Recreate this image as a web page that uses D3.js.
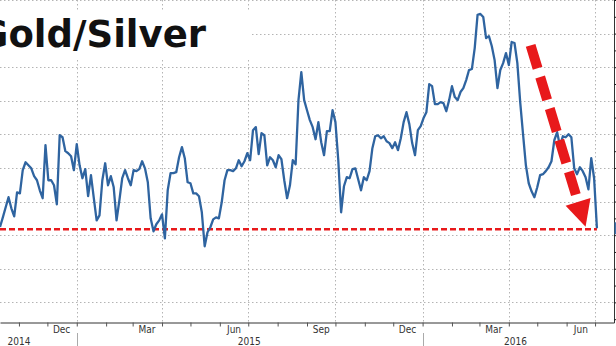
<!DOCTYPE html>
<html>
<head>
<meta charset="utf-8">
<script src="https://cdn.jsdelivr.net/npm/d3@7"></script>
<style>
  body { margin: 0; background: #fff; }
  svg { display: block; }
</style>
</head>
<body>
<script>
// gold / silver ratio, one reading every 3 days from startDate
const startDate = new Date(2014, 9, 12);
const endDate = new Date(2016, 6, 21);
const stepDays = 3;
const ratio = [
  70.49, 71.06, 71.66, 72.26, 71.60, 71.12, 72.55, 72.49, 73.87, 74.34,
  74.16, 73.98, 73.51, 73.27, 72.67, 72.20, 75.36, 73.27, 73.27, 72.97,
  71.84, 75.95, 75.83, 75.00, 74.88, 74.70, 73.87, 75.42, 74.16, 73.39,
  73.93, 72.32, 73.57, 72.20, 70.88, 71.18, 73.27, 74.28, 72.97, 73.51,
  72.85, 70.88, 72.08, 73.39, 73.87, 73.39, 72.97, 73.87, 73.81, 73.93,
  74.40, 73.98, 73.15, 71.00, 70.23, 70.65, 70.88, 71.24, 69.81, 72.67,
  73.69, 73.69, 73.75, 74.64, 75.24, 74.58, 73.15, 73.09, 72.49, 72.49,
  72.32, 71.36, 69.34, 70.17, 70.47, 70.94, 71.06, 71.00, 71.96, 73.27,
  73.87, 73.87, 73.81, 73.98, 74.46, 74.10, 74.40, 74.88, 74.46, 76.25,
  76.43, 74.82, 76.07, 75.95, 74.16, 74.64, 74.46, 74.04, 74.76, 74.52,
  73.27, 72.20, 72.97, 74.46, 74.22, 78.04, 79.71, 78.04, 77.44, 76.85,
  76.43, 75.71, 76.73, 75.53, 74.76, 76.19, 76.19, 77.44, 76.73, 74.46,
  71.36, 72.91, 73.45, 73.39, 73.93, 73.98, 73.33, 72.67, 73.45, 73.27,
  73.81, 75.18, 75.89, 75.95, 75.77, 75.89, 75.59, 75.48, 75.18, 75.53,
  75.06, 75.77, 76.73, 77.32, 76.61, 75.48, 74.76, 76.25, 76.49, 76.97,
  77.32, 78.99, 78.87, 77.80, 77.80, 77.92, 77.86, 77.38, 78.04, 78.87,
  78.22, 78.04, 78.52, 78.75, 79.23, 79.83, 79.89, 81.14, 83.11, 83.17,
  82.99, 81.73, 81.85, 81.26, 80.42, 78.75, 79.83, 80.24, 80.84, 80.13,
  81.50, 81.44, 80.24, 77.92, 76.01, 74.16, 73.09, 72.61, 72.26, 72.85,
  73.57, 73.63, 73.81, 74.04, 74.40, 75.65, 76.13, 75.30, 75.89, 75.83,
  76.01, 75.83, 73.98, 73.63, 74.04, 73.81, 73.45, 72.73, 74.58, 73.39,
  70.41
];
const supportLevel = 70.35;
const monthLabels = ["Dec", "Mar", "Jun", "Sep", "Dec", "Mar", "Jun"];
const yearLabels = ["2014", "2015", "2016"];
const yearLabelDates = [new Date(2014, 10, 1), new Date(2015, 6, 2), new Date(2016, 3, 8)];
const arrowFrom = [new Date(2016, 3, 24), 81.3];
const arrowTo = [new Date(2016, 5, 21), 70.5];

const width = 616, height = 346;
const plotRight = 614, plotBottom = 322.5;
const gridColor = "#b4b4b4";
const red = "#e8191b";

const data = ratio.map((v, i) => ({date: d3.timeDay.offset(startDate, i * stepDays), value: v}));

const xScale = d3.scaleTime().domain([startDate, endDate]).range([0, plotRight]);
const yScale = d3.scaleLinear().domain([64.8, 84]).range([plotBottom, 0]);

const svg = d3.select("body").append("svg")
  .attr("width", width)
  .attr("height", height)
  .style("font-family", "'DejaVu Sans Condensed', 'DejaVu Sans', sans-serif");

// horizontal grid
svg.append("g")
  .selectAll("line")
  .data(d3.range(66, 85, 2))
  .join("line")
  .attr("x1", 0).attr("x2", plotRight)
  .attr("y1", d => Math.round(yScale(d)) + 0.5)
  .attr("y2", d => Math.round(yScale(d)) + 0.5)
  .attr("stroke", gridColor)
  .attr("stroke-dasharray", "1.5 2.5");

// vertical grid at quarters
const quarters = d3.timeMonth.every(3).range(startDate, endDate);
svg.append("g")
  .selectAll("line")
  .data(quarters)
  .join("line")
  .attr("x1", d => Math.round(xScale(d)) + 0.5)
  .attr("x2", d => Math.round(xScale(d)) + 0.5)
  .attr("y1", 0).attr("y2", plotBottom)
  .attr("stroke", gridColor)
  .attr("stroke-dasharray", "1.5 2.5");

// year separators below axis
svg.append("g")
  .selectAll("line")
  .data(d3.timeYear.range(startDate, endDate))
  .join("line")
  .attr("x1", d => Math.round(xScale(d)) + 0.5)
  .attr("x2", d => Math.round(xScale(d)) + 0.5)
  .attr("y1", 333).attr("y2", height)
  .attr("stroke", "#aaa");

// title with white box
svg.append("rect")
  .attr("x", 0).attr("y", 10)
  .attr("width", 250).attr("height", 48)
  .attr("fill", "#fff");
svg.append("text")
  .attr("x", 206).attr("y", 47)
  .attr("text-anchor", "end")
  .attr("font-family", "'DejaVu Sans', sans-serif")
  .attr("font-weight", "bold")
  .attr("font-size", 37)
  .attr("fill", "#111")
  .text("Gold/Silver");

// x axis
const xAxis = d3.axisBottom(xScale)
  .ticks(d3.timeMonth.every(1))
  .tickSize(4)
  .tickSizeOuter(0)
  .tickFormat("");
svg.append("g")
  .attr("transform", `translate(0,${plotBottom})`)
  .call(xAxis)
  .call(g => g.select(".domain").attr("stroke", "#333"))
  .call(g => g.selectAll(".tick line").attr("stroke", "#555"));

// right axis (labels fall outside the crop)
const yAxis = d3.axisRight(yScale)
  .tickValues(d3.range(65, 85, 1))
  .tickSize(3)
  .tickSizeOuter(0)
  .tickFormat("");
svg.append("g")
  .attr("transform", `translate(${plotRight},0)`)
  .call(yAxis)
  .call(g => g.select(".domain").attr("stroke", "#333"))
  .call(g => g.selectAll(".tick line").attr("stroke", "#222"));

// month labels centred in the last month of each quarter
const labelMonths = d3.timeMonth.range(startDate, endDate).filter(d => d.getMonth() % 3 === 2);
svg.append("g")
  .selectAll("text")
  .data(labelMonths)
  .join("text")
  .attr("x", d => xScale(d3.timeDay.offset(d, 15)))
  .attr("y", 333)
  .attr("text-anchor", "middle")
  .attr("font-size", 10)
  .attr("fill", "#333")
  .text((d, i) => monthLabels[i]);

svg.append("g")
  .selectAll("text")
  .data(yearLabels)
  .join("text")
  .attr("x", (d, i) => xScale(yearLabelDates[i]))
  .attr("y", 345)
  .attr("text-anchor", "middle")
  .attr("font-size", 10)
  .attr("fill", "#333")
  .text(d => d);

// support line
const last = data[data.length - 1];
svg.append("line")
  .attr("x1", 0).attr("x2", xScale(last.date))
  .attr("y1", yScale(supportLevel)).attr("y2", yScale(supportLevel))
  .attr("stroke", red)
  .attr("stroke-width", 2.5)
  .attr("stroke-dasharray", "6 3");

// ratio line
const line = d3.line()
  .x(d => xScale(d.date))
  .y(d => yScale(d.value));
svg.append("path")
  .datum(data)
  .attr("d", line)
  .attr("fill", "none")
  .attr("stroke", "#2f64a0")
  .attr("stroke-width", 2.3)
  .attr("stroke-linejoin", "round");

// last value tag, cut by the crop
svg.append("rect")
  .attr("x", plotRight + 0.5)
  .attr("y", yScale(last.value) - 6)
  .attr("width", 6).attr("height", 12)
  .attr("fill", "#3c73ad");

// big red arrow
const p0 = [xScale(arrowFrom[0]), yScale(arrowFrom[1])];
const p1 = [xScale(arrowTo[0]), yScale(arrowTo[1])];
const len = Math.hypot(p1[0] - p0[0], p1[1] - p0[1]);
const ux = (p1[0] - p0[0]) / len, uy = (p1[1] - p0[1]) / len;
const headLen = 26, headHalf = 13;
const base = [p1[0] - ux * headLen, p1[1] - uy * headLen];
svg.append("line")
  .attr("x1", p0[0]).attr("y1", p0[1])
  .attr("x2", base[0] + ux * 2).attr("y2", base[1] + uy * 2)
  .attr("stroke", red)
  .attr("stroke-width", 10)
  .attr("stroke-dasharray", "24 9");
svg.append("polygon")
  .attr("points", [
    p1,
    [base[0] - uy * headHalf, base[1] + ux * headHalf],
    [base[0] + uy * headHalf, base[1] - ux * headHalf]
  ].map(p => p.join(",")).join(" "))
  .attr("fill", red);
</script>
</body>
</html>
